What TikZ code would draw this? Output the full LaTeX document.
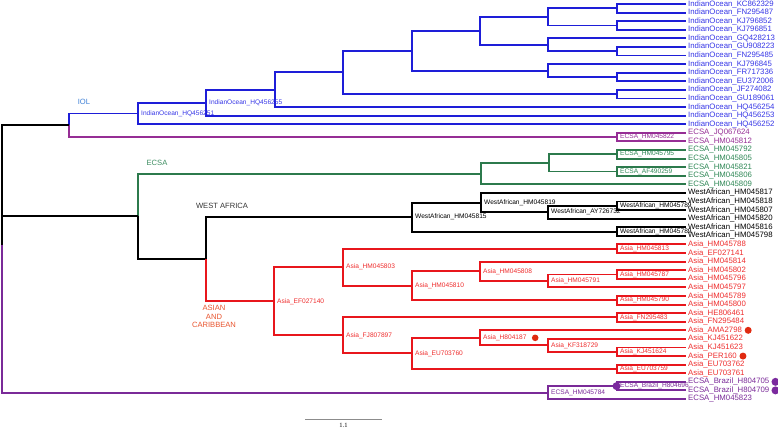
\documentclass[tikz,border=0pt]{standalone}
\usepackage{fontspec}
\setmainfont{Liberation Sans}
\newfontfamily\barserif{Liberation Serif}
\definecolor{cblue}{HTML}{1E1ED8}
\definecolor{tblue}{HTML}{3535E6}
\definecolor{cpurA}{HTML}{962E95}
\definecolor{cpurB}{HTML}{7A2A98}
\definecolor{cgreen}{HTML}{2C7A4C}
\definecolor{tgreen}{HTML}{2E8755}
\definecolor{cred}{HTML}{E8161C}
\definecolor{tred}{HTML}{EE2D2D}
\definecolor{ciol}{HTML}{3D7FD6}
\definecolor{cecsa}{HTML}{3C8C60}
\definecolor{casia}{HTML}{E8542E}
\definecolor{dotred}{HTML}{E02A10}
\definecolor{dotpur}{HTML}{7B2A9E}
\begin{document}
\begin{tikzpicture}[x=1pt,y=-1pt,
  br/.style={line width=1.9pt},
  leaf/.style={anchor=west,inner xsep=2pt,inner ysep=0pt,font=\fontsize{7.8}{9}\selectfont},
  ilab/.style={anchor=west,inner xsep=3pt,inner ysep=0pt,font=\fontsize{6.6}{8}\selectfont},
  clade/.style={font=\fontsize{7.6}{8.7}\selectfont,align=center,inner sep=0pt},
  dot/.style={circle,inner sep=0pt,minimum size=#1},
  dot/.default=7pt]
\useasboundingbox (0,0) rectangle (778,428);

% ---------- leaves ----------
\node[leaf,text=tblue] (l1) at (686,4.00) {IndianOcean\_KC862329};
\node[leaf,text=tblue] (l2) at (686,12.59) {IndianOcean\_FN295487};
\node[leaf,text=tblue] (l3) at (686,21.17) {IndianOcean\_KJ796852};
\node[leaf,text=tblue] (l4) at (686,29.76) {IndianOcean\_KJ796851};
\node[leaf,text=tblue] (l5) at (686,38.35) {IndianOcean\_GQ428213};
\node[leaf,text=tblue] (l6) at (686,46.94) {IndianOcean\_GU908223};
\node[leaf,text=tblue] (l7) at (686,55.52) {IndianOcean\_FN295485};
\node[leaf,text=tblue] (l8) at (686,64.11) {IndianOcean\_KJ796845};
\node[leaf,text=tblue] (l9) at (686,72.70) {IndianOcean\_FR717336};
\node[leaf,text=tblue] (l10) at (686,81.28) {IndianOcean\_EU372006};
\node[leaf,text=tblue] (l11) at (686,89.87) {IndianOcean\_JF274082};
\node[leaf,text=tblue] (l12) at (686,98.46) {IndianOcean\_GU189061};
\node[leaf,text=tblue] (l13) at (686,107.04) {IndianOcean\_HQ456254};
\node[leaf,text=tblue] (l14) at (686,115.63) {IndianOcean\_HQ456253};
\node[leaf,text=tblue] (l15) at (686,124.22) {IndianOcean\_HQ456252};
\node[leaf,text=cpurA] (l16) at (686,132.81) {ECSA\_JQ067624};
\node[leaf,text=cpurA] (l17) at (686,141.39) {ECSA\_HM045812};
\node[leaf,text=tgreen] (l18) at (686,149.98) {ECSA\_HM045792};
\node[leaf,text=tgreen] (l19) at (686,158.57) {ECSA\_HM045805};
\node[leaf,text=tgreen] (l20) at (686,167.15) {ECSA\_HM045821};
\node[leaf,text=tgreen] (l21) at (686,175.74) {ECSA\_HM045806};
\node[leaf,text=tgreen] (l22) at (686,184.33) {ECSA\_HM045809};
\node[leaf,text=black] (l23) at (686,192.91) {WestAfrican\_HM045817};
\node[leaf,text=black] (l24) at (686,201.50) {WestAfrican\_HM045818};
\node[leaf,text=black] (l25) at (686,210.09) {WestAfrican\_HM045807};
\node[leaf,text=black] (l26) at (686,218.68) {WestAfrican\_HM045820};
\node[leaf,text=black] (l27) at (686,227.26) {WestAfrican\_HM045816};
\node[leaf,text=black] (l28) at (686,235.85) {WestAfrican\_HM045798};
\node[leaf,text=tred] (l29) at (686,244.44) {Asia\_HM045788};
\node[leaf,text=tred] (l30) at (686,253.02) {Asia\_EF027141};
\node[leaf,text=tred] (l31) at (686,261.61) {Asia\_HM045814};
\node[leaf,text=tred] (l32) at (686,270.20) {Asia\_HM045802};
\node[leaf,text=tred] (l33) at (686,278.78) {Asia\_HM045796};
\node[leaf,text=tred] (l34) at (686,287.37) {Asia\_HM045797};
\node[leaf,text=tred] (l35) at (686,295.96) {Asia\_HM045789};
\node[leaf,text=tred] (l36) at (686,304.55) {Asia\_HM045800};
\node[leaf,text=tred] (l37) at (686,313.13) {Asia\_HE806461};
\node[leaf,text=tred] (l38) at (686,321.72) {Asia\_FN295484};
\node[leaf,text=tred] (l39) at (686,330.31) {Asia\_AMA2798};
\node[leaf,text=tred] (l40) at (686,338.89) {Asia\_KJ451622};
\node[leaf,text=tred] (l41) at (686,347.48) {Asia\_KJ451623};
\node[leaf,text=tred] (l42) at (686,356.07) {Asia\_PER160};
\node[leaf,text=tred] (l43) at (686,364.65) {Asia\_EU703762};
\node[leaf,text=tred] (l44) at (686,373.24) {Asia\_EU703761};
\node[leaf,text=cpurB] (l45) at (686,381.83) {ECSA\_Brazil\_H804705};
\node[leaf,text=cpurB] (l46) at (686,390.41) {ECSA\_Brazil\_H804709};
\node[leaf,text=cpurB] (l47) at (686,399.00) {ECSA\_HM045823};

% ---------- internal nodes ----------
\coordinate (b12) at (617,8.29);
\coordinate (b34) at (617,25.47);
\coordinate (b67) at (617,51.23);
\coordinate (b910) at (617,76.99);
\coordinate (b1112) at (617,94.16);
\coordinate (bA) at (548,16.88);
\coordinate (bB) at (548,44.79);
\coordinate (bC) at (480,30.84);
\coordinate (bD) at (548,70.55);
\coordinate (bE) at (412,50.69);
\coordinate (bF) at (343,72.43);
\coordinate (bG) at (275,89.73);
\coordinate (bH) at (206,102.68);
\coordinate (bI) at (138,113.45);
\coordinate (pt) at (617,137.10);
\coordinate (nIOL) at (69,125.28);
\coordinate (g1) at (617,154.28);
\coordinate (g2) at (617,171.45);
\coordinate (g3) at (549,162.86);
\coordinate (g4) at (481,173.60);
\coordinate (w1) at (617,205.80);
\coordinate (w2) at (548,212.24);
\coordinate (w3) at (481,202.58);
\coordinate (w4) at (617,231.56);
\coordinate (w5) at (412,217.07);
\coordinate (a1) at (617,248.73);
\coordinate (a2) at (617,274.49);
\coordinate (a3) at (548,280.93);
\coordinate (a4) at (480,271.27);
\coordinate (a5) at (617,300.26);
\coordinate (a6) at (412,285.77);
\coordinate (a7) at (343,267.25);
\coordinate (a8) at (617,317.43);
\coordinate (a9) at (617,351.78);
\coordinate (a10) at (548,345.34);
\coordinate (a11) at (480,337.83);
\coordinate (a12) at (617,368.95);
\coordinate (a13) at (412,353.39);
\coordinate (a14) at (343,335.41);
\coordinate (a15) at (274,301.33);
\coordinate (n206) at (206,259.20);
\coordinate (n138) at (138,216.40);
\coordinate (p1) at (617,386.12);
\coordinate (p2) at (548,392.56);
\coordinate (root) at (2,244.70);

% ---------- branches ----------
\draw[br,cblue]
 (b12) |- (l1.west) (b12) |- (l2.west)
 (b34) |- (l3.west) (b34) |- (l4.west)
 (b67) |- (l6.west) (b67) |- (l7.west)
 (b910) |- (l9.west) (b910) |- (l10.west)
 (b1112) |- (l11.west) (b1112) |- (l12.west)
 (bA) |- (b12) (bA) |- (b34)
 (bB) |- (l5.west) (bB) |- (b67)
 (bC) |- (bA) (bC) |- (bB)
 (bD) |- (l8.west) (bD) |- (b910)
 (bE) |- (bC) (bE) |- (bD)
 (bF) |- (bE) (bF) |- (b1112)
 (bG) |- (bF) (bG) |- (l13.west)
 (bH) |- (bG) (bH) |- (l14.west)
 (bI) |- (bH) (bI) |- (l15.west)
 (nIOL) |- (bI);
\draw[br,cpurA] (pt) |- (l16.west) (pt) |- (l17.west) (nIOL) |- (pt);
\draw[br,cgreen]
 (g1) |- (l18.west) (g1) |- (l19.west)
 (g2) |- (l20.west) (g2) |- (l21.west)
 (g3) |- (g1) (g3) |- (g2)
 (g4) |- (g3) (g4) |- (l22.west)
 (n138) |- (g4);
\draw[br,black]
 (root) |- (nIOL) (root) |- (n138)
 (n138) |- (n206) (n206) |- (w5)
 (w1) |- (l24.west) (w1) |- (l25.west)
 (w2) |- (w1) (w2) |- (l26.west)
 (w3) |- (l23.west) (w3) |- (w2)
 (w4) |- (l27.west) (w4) |- (l28.west)
 (w5) |- (w3) (w5) |- (w4);
\draw[br,cred]
 (n206) |- (a15)
 (a1) |- (l29.west) (a1) |- (l30.west)
 (a2) |- (l32.west) (a2) |- (l33.west)
 (a3) |- (a2) (a3) |- (l34.west)
 (a4) |- (l31.west) (a4) |- (a3)
 (a5) |- (l35.west) (a5) |- (l36.west)
 (a6) |- (a4) (a6) |- (a5)
 (a7) |- (a1) (a7) |- (a6)
 (a8) |- (l37.west) (a8) |- (l38.west)
 (a9) |- (l41.west) (a9) |- (l42.west)
 (a10) |- (l40.west) (a10) |- (a9)
 (a11) |- (l39.west) (a11) |- (a10)
 (a12) |- (l43.west) (a12) |- (l44.west)
 (a13) |- (a11) (a13) |- (a12)
 (a14) |- (a8) (a14) |- (a13)
 (a15) |- (a7) (a15) |- (a14);
\draw[br,cpurB]
 (root) |- (p2)
 (p2) |- (p1) (p2) |- (l47.west)
 (p1) |- (l45.west) (p1) |- (l46.west);

% ---------- internal labels ----------
\node[ilab,text=tblue] (bHl) at (bH) {IndianOcean\_HQ456255};
\node[ilab,text=tblue] (bIl) at (bI) {IndianOcean\_HQ456251};
\node[ilab,text=cpurA] (ptl) at (pt) {ECSA\_HM045822};
\node[ilab,text=tgreen] (g1l) at (g1) {ECSA\_HM045795};
\node[ilab,text=tgreen] (g2l) at (g2) {ECSA\_AF490259};
\node[ilab,text=black] (w1l) at (w1) {WestAfrican\_HM045789};
\node[ilab,text=black] (w2l) at (w2) {WestAfrican\_AY726732};
\node[ilab,text=black] (w3l) at (w3) {WestAfrican\_HM045819};
\node[ilab,text=black] (w4l) at (w4) {WestAfrican\_HM045789};
\node[ilab,text=black] (w5l) at (w5) {WestAfrican\_HM045815};
\node[ilab,text=tred] (a1l) at (a1) {Asia\_HM045813};
\node[ilab,text=tred] (a2l) at (a2) {Asia\_HM045787};
\node[ilab,text=tred] (a3l) at (a3) {Asia\_HM045791};
\node[ilab,text=tred] (a4l) at (a4) {Asia\_HM045808};
\node[ilab,text=tred] (a5l) at (a5) {Asia\_HM045790};
\node[ilab,text=tred] (a6l) at (a6) {Asia\_HM045810};
\node[ilab,text=tred] (a7l) at (a7) {Asia\_HM045803};
\node[ilab,text=tred] (a8l) at (a8) {Asia\_FN295483};
\node[ilab,text=tred] (a9l) at (a9) {Asia\_KJ451624};
\node[ilab,text=tred] (a10l) at (a10) {Asia\_KF318729};
\node[ilab,text=tred] (a11l) at (a11) {Asia\_H804187};
\node[ilab,text=tred] (a12l) at (a12) {Asia\_EU703759};
\node[ilab,text=tred] (a13l) at (a13) {Asia\_EU703760};
\node[ilab,text=tred] (a14l) at (a14) {Asia\_FJ807897};
\node[ilab,text=tred] (a15l) at (a15) {Asia\_EF027140};
\node[dot=8pt,fill=dotpur] (p1d) at ([xshift=-0.5pt]p1) {};
\node[ilab,text=cpurB] (p1l) at (p1) {ECSA\_Brazil\_H804696};
\node[ilab,text=cpurB] (p2l) at (p2) {ECSA\_HM045784};

% ---------- dots ----------
\node[dot=6.6pt,fill=dotred] (a11d) at ([xshift=5.5pt]a11l.east) {};
\node[dot=7pt,fill=dotred] (l39d) at ([xshift=4pt]l39.east) {};
\node[dot=7pt,fill=dotred] (l42d) at ([xshift=4pt]l42.east) {};
\node[dot=8pt,fill=dotpur] (l45d) at ([xshift=4pt]l45.east) {};
\node[dot=8pt,fill=dotpur] (l46d) at ([xshift=4pt]l46.east) {};

% ---------- clade labels ----------
\node[clade,text=ciol] (tIOL) at (84,102) {IOL};
\node[clade,text=cecsa] (tECSA) at (157,163) {ECSA};
\node[clade,text=black!80] (tWA) at (222,206) {WEST AFRICA};
\node[clade,text=casia] (tAC) at (214,316.5) {ASIAN\\AND\\CARIBBEAN};

% ---------- scale bar ----------
\coordinate (s1) at (305,419);
\coordinate (s2) at (382,419);
\draw[line width=1pt,black!45] (s1) -- (s2);
\node[inner sep=0pt,font=\barserif\fontsize{6.5}{7.5}\selectfont] (sl) at (343.5,425.2) {1.1};
\end{tikzpicture}
\end{document}
